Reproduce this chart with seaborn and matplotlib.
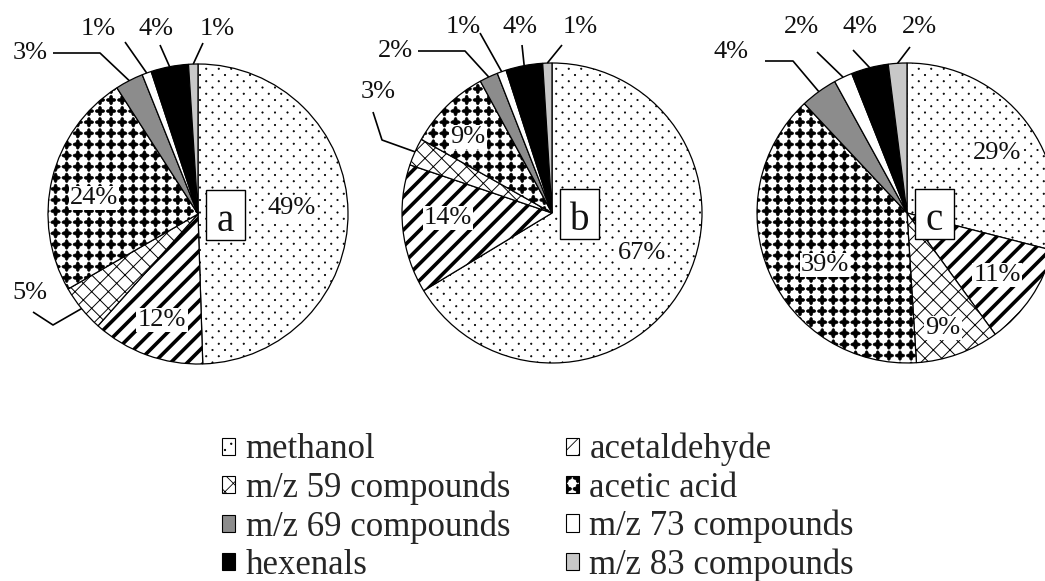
import numpy as np
import matplotlib
matplotlib.use("Agg")
import matplotlib.pyplot as plt
import matplotlib.hatch as mhatch
from matplotlib.path import Path
from matplotlib.patches import Patch, Rectangle
import seaborn as sns

# ---------------- data ----------------
categories = ["methanol", "acetaldehyde", "m/z 59 compounds", "acetic acid",
              "m/z 69 compounds", "m/z 73 compounds", "hexenals", "m/z 83 compounds"]
panel_labels = ["a", "b", "c"]
share_a = [49, 12, 5, 24, 3, 1, 4, 1]
share_b = [67, 14, 3, 9, 2, 1, 4, 1]
share_c = [29, 11, 9, 39, 4, 2, 4, 2]

# ---------------- styles ----------------
face_colors = ["white", "white", "white", "white", "#8c8c8c", "white", "black", "#c8c8c8"]
hatch_codes = ["..", "//", "xx", "*", "", "", "", ""]
hatch_widths = [0.5, 2.6, 0.7, 0.4, 0.5, 0.5, 0.5, 0.5]


# custom hatch patterns: staggered fine dots ('.') and square grid of diamonds ('*')
class _GridShapes(mhatch.HatchPatternBase):
    char = "?"
    n_per_inch = 8

    def __init__(self, hatch, density):
        k = hatch.count(self.char)
        self.n = self.n_per_inch if k else 0
        if self.n:
            self.centers = self.make_centers()
            self.num_vertices = len(self.centers) * len(self.shape_verts)
        else:
            self.num_vertices = 0

    def set_vertices_and_codes(self, vertices, codes):
        m = len(self.shape_verts)
        shp = self.shape_verts / self.n
        cur = 0
        for (x, y) in self.centers:
            vertices[cur:cur + m] = shp + np.array([x, y])
            codes[cur:cur + m] = self.shape_codes
            cur += m


class Dots(_GridShapes):
    char = "."
    n_per_inch = 8
    _c = Path.unit_circle()
    shape_verts = _c.vertices * 0.055
    shape_codes = _c.codes

    def make_centers(self):
        n = self.n
        pts = []
        for j in range(2 * n + 1):
            y = j / (2 * n)
            if j % 2 == 0:
                xs = [i / n for i in range(n + 1)]
            else:
                xs = [(i + 0.5) / n for i in range(n)]
            pts += [(x, y) for x in xs]
        return pts


def _diamond():
    th = np.linspace(0, 2 * np.pi, 33)[:-1]
    r = 0.33 + 0.10 * np.cos(4 * th)
    v = np.column_stack([r * np.cos(th), r * np.sin(th)])
    v = np.vstack([v, v[:1]])
    c = np.full(len(v), Path.LINETO, dtype=Path.code_type)
    c[0] = Path.MOVETO
    c[-1] = Path.CLOSEPOLY
    return v, c


class Diamonds(_GridShapes):
    char = "*"
    n_per_inch = 9
    shape_verts, shape_codes = _diamond()

    def make_centers(self):
        n = self.n
        return [(i / n, j / n) for j in range(n + 1) for i in range(n + 1)]


mhatch._hatch_types = [t for t in mhatch._hatch_types
                       if t not in (mhatch.SmallFilledCircles, mhatch.Stars)] + [Dots, Diamonds]

# ---------------- layout ----------------
W, H = 1045, 581
R = 150
centers = [(198, 214), (552, 213), (907, 213)]

inner_pos = [
    {0: (292, 208), 1: (162, 320), 3: (94, 198)},
    {0: (642, 253), 1: (448, 218), 3: (468, 137)},
    {0: (997, 153), 1: (997, 275), 2: (943, 328), 3: (825, 265)},
]
outer_pos = [
    {4: ((30, 53), [(53, 53), (100, 53)]),
     5: ((98, 29), [(125, 42)]),
     6: ((156, 29), [(160, 45)]),
     7: ((217, 29), [(203, 43)]),
     2: ((30, 293), [(33, 312), (53, 325)])},
    {4: ((395, 51), [(418, 51), (465, 51)]),
     2: ((378, 92), [(373, 112), (382, 140)]),
     5: ((463, 27), [(480, 33)]),
     6: ((520, 27), [(522, 45)]),
     7: ((580, 27), [(562, 45)])},
    {4: ((731, 52), [(765, 61), (793, 61)]),
     5: ((801, 27), [(817, 52)]),
     6: ((860, 27), [(853, 50)]),
     7: ((919, 27), [(910, 47)])},
]

# ---------------- plotting ----------------
sns.set_theme(style="white")
plt.rcParams["font.family"] = ["Liberation Serif", "DejaVu Serif"]
plt.rcParams["hatch.color"] = "black"
plt.rcParams["hatch.linewidth"] = 0.6

fig = plt.figure(figsize=(W / 100, H / 100), dpi=100)
ax = fig.add_axes([0, 0, 1, 1])


def Y(py):
    return H - py


pct_size = 19
for k, vals in enumerate([share_a, share_b, share_c]):
    cx, cy = centers[k]
    wedges, _ = ax.pie(vals, colors=face_colors, hatch=hatch_codes, startangle=90,
                       counterclock=False, radius=R, center=(cx, Y(cy)),
                       wedgeprops=dict(edgecolor="black", linewidth=0.9))
    for w, hl in zip(wedges, hatch_widths):
        if hasattr(w, "set_hatch_linewidth"):
            w.set_hatch_linewidth(hl)
    # inner percentage labels
    for idx, (px, py) in inner_pos[k].items():
        ax.text(px, Y(py), f"{vals[idx]}%", ha="center", va="center", fontsize=pct_size,
                color="#111111",
                bbox=dict(facecolor="white", edgecolor="none", pad=1.0), zorder=5)
    # outer labels with leader lines
    for idx, ((tx, ty), knees) in outer_pos[k].items():
        w = wedges[idx]
        mid = np.deg2rad((w.theta1 + w.theta2) / 2)
        rim = (cx + R * np.cos(mid), Y(cy) + R * np.sin(mid))
        xs = [p[0] for p in knees] + [rim[0]]
        ys = [Y(p[1]) for p in knees] + [rim[1]]
        ax.plot(xs, ys, color="black", lw=1.2, solid_capstyle="butt", zorder=4)
        ax.text(tx, Y(ty), f"{vals[idx]}%", ha="center", va="center", fontsize=pct_size,
                color="#111111")
    # panel letter box
    ax.add_patch(Rectangle((cx + 8, Y(cy + 26)), 39, 50, facecolor="white",
                           edgecolor="black", linewidth=1.0, zorder=6))
    ax.text(cx + 27.5, Y(cy + 17), panel_labels[k], ha="center", va="baseline",
            fontsize=28, color="#111111", zorder=7)

ax.set_xlim(0, W)
ax.set_ylim(0, H)
ax.set_aspect("auto")
ax.axis("off")

# legend (column-major order)
order = [0, 2, 4, 6, 1, 3, 5, 7]
handles = []
for i in order:
    p = Patch(facecolor=face_colors[i], edgecolor="black", hatch=hatch_codes[i],
              linewidth=0.8, label=categories[i])
    if hasattr(p, "set_hatch_linewidth"):
        p.set_hatch_linewidth(hatch_widths[i])
    handles.append(p)
fig.legend(handles=handles, loc="upper left", bbox_to_anchor=(222 / W, 1 - 433 / H),
           ncol=2, frameon=False, fontsize=25, handlelength=0.38, handleheight=0.38,
           handletextpad=0.3, columnspacing=1.6, labelspacing=0.15, borderpad=0,
           borderaxespad=0)

fig.savefig("out.png", dpi=100)
